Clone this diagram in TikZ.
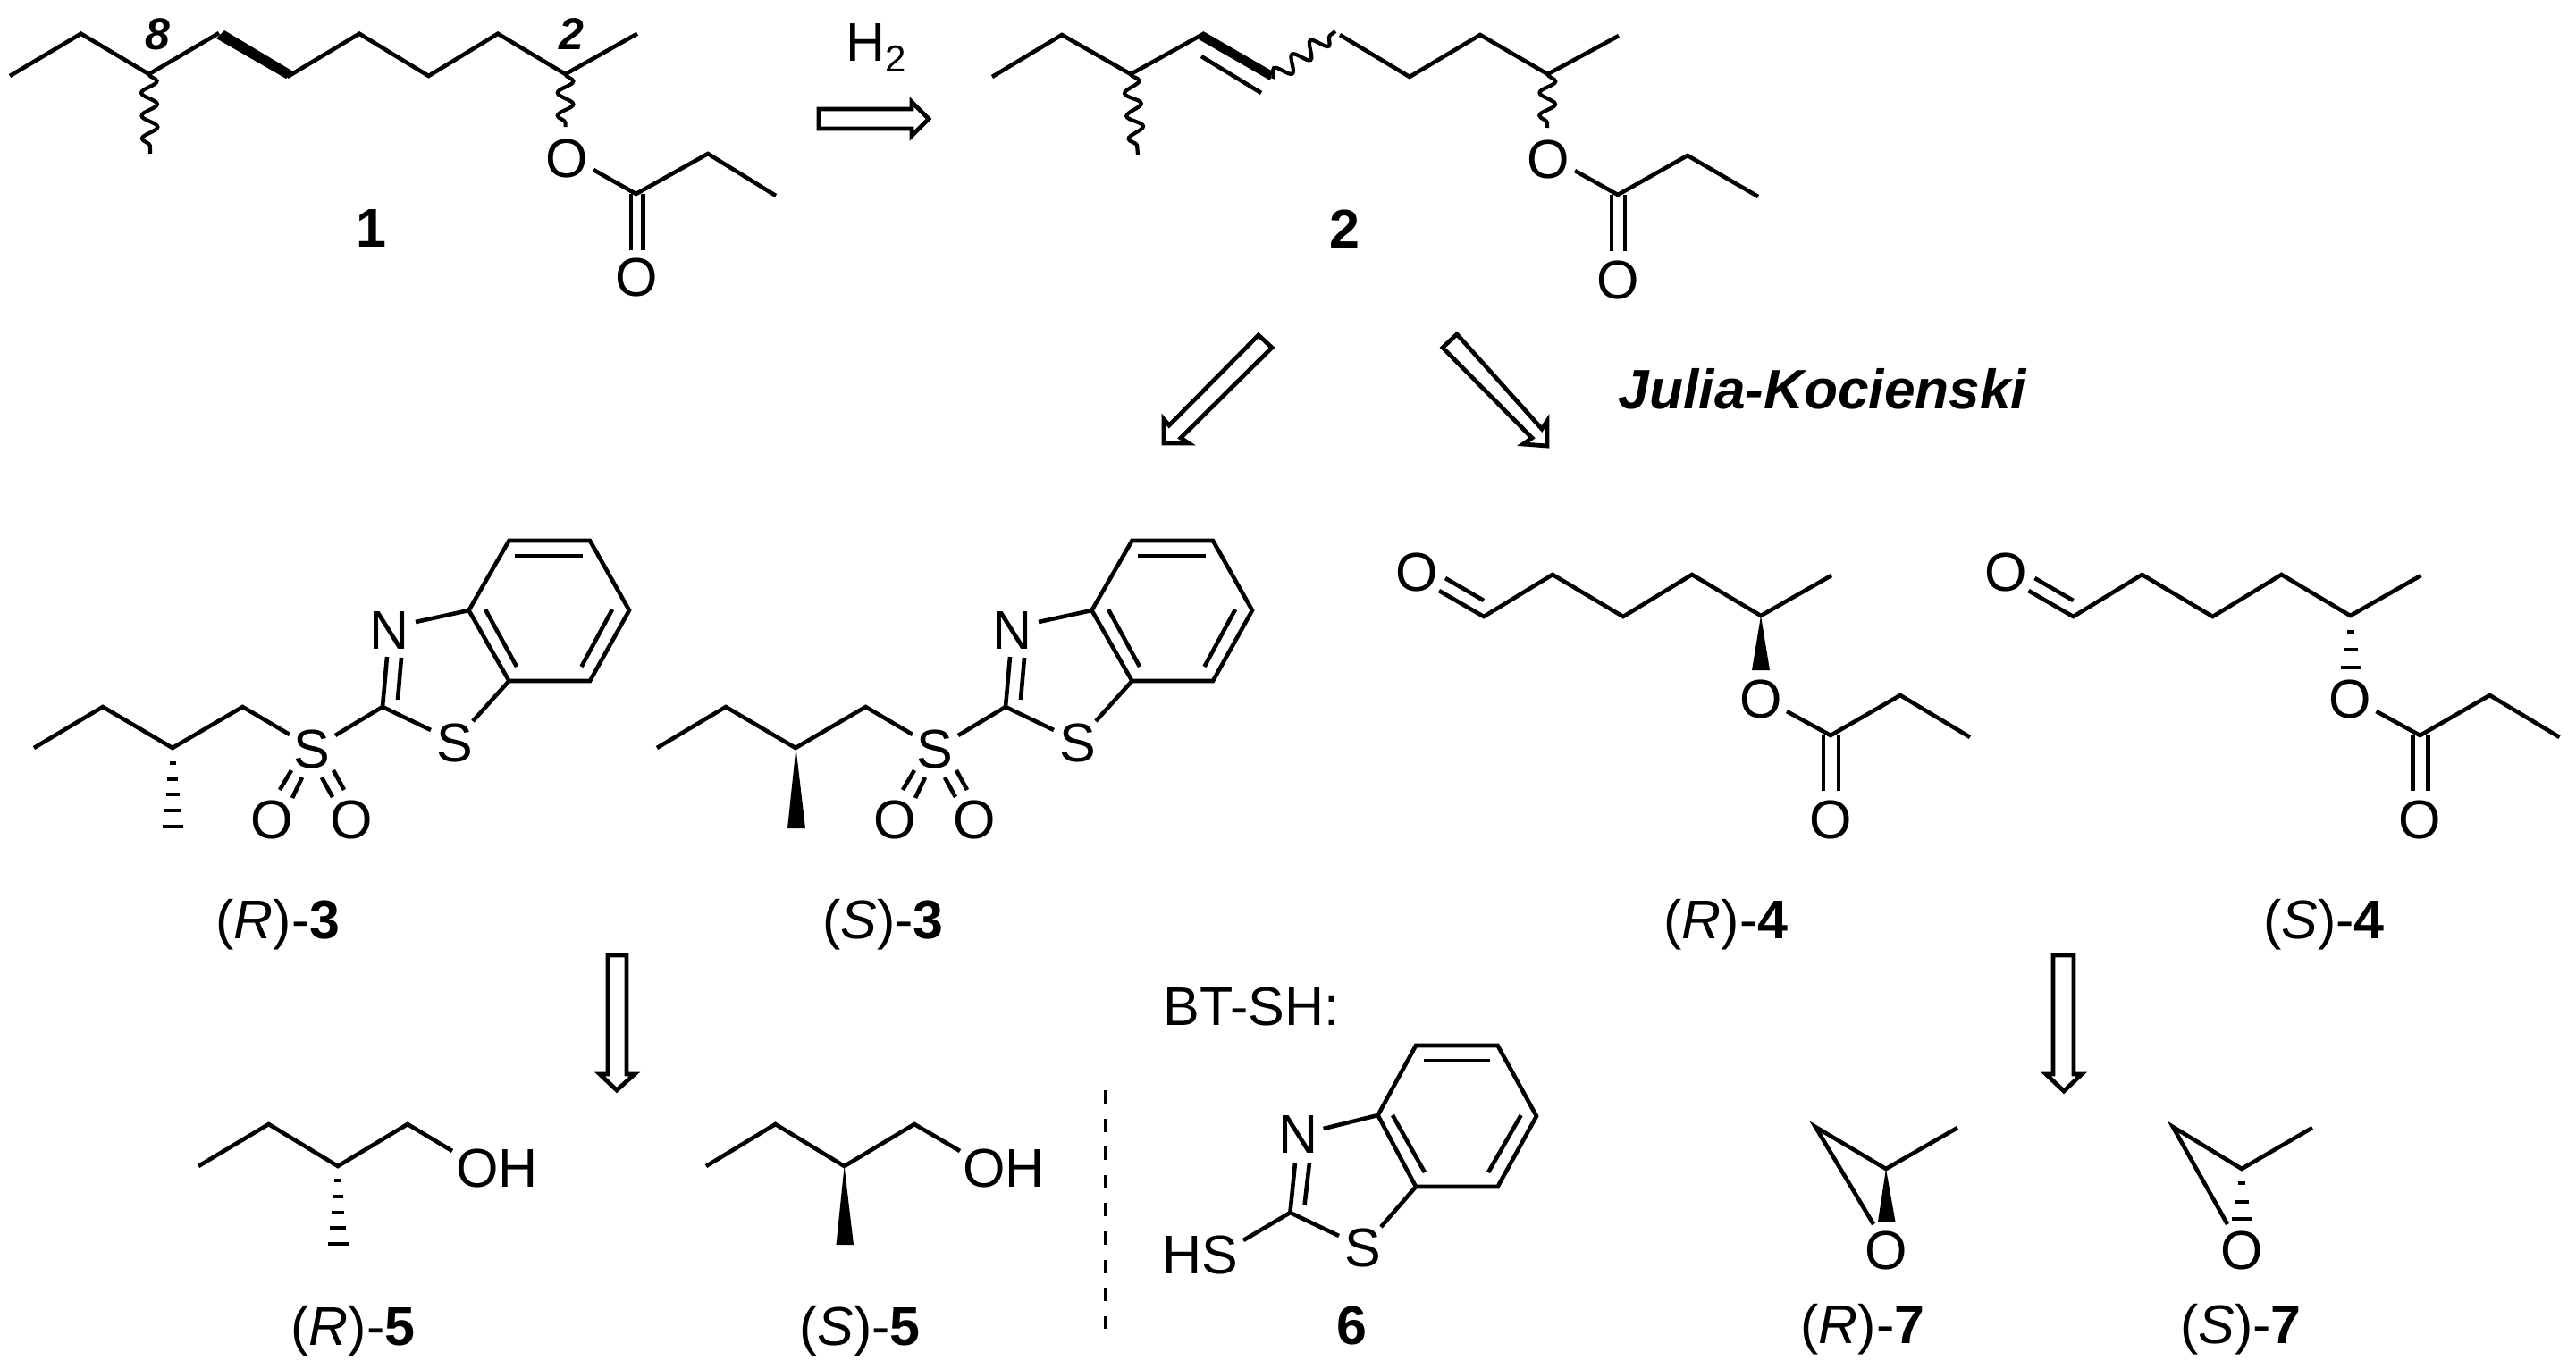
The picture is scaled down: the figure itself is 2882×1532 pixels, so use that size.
\documentclass[tikz,border=0pt]{standalone}
\usepackage{fontspec}
\setmainfont{Liberation Sans}
\usetikzlibrary{decorations.pathmorphing}
\newcommand\lblfont{\fontsize{15.25}{18}\selectfont}
\newcommand\smallbi{\fontsize{12.5}{15}\selectfont\bfseries\itshape}
\newcommand\isoname[2]{(\textit{#1})-\textbf{#2}}
\tikzset{
  bond/.style={line width=1.15pt,line join=miter},
  atom/.style={inner sep=0pt,font=\lblfont},
  caption/.style={inner sep=0pt,anchor=base,font=\lblfont},
  wavy/.style={line width=1.05pt,decorate,decoration={snake,segment length=6.4pt,amplitude=2.2pt}},
  hashline/.style={line width=1.05pt},
  wedgefill/.style={fill=black,draw=none},
  hollow/.style={line width=1.2pt,line join=miter,miter limit=10},
  divider/.style={line width=0.9pt,dash pattern=on 3.75pt off 4.15pt}
}
% benzothiazole sulfone, coordinates of (R)-3
\newcommand\sulfonecore[1]{
  \draw[bond] (38,837) -- (115,791) -- (193,837) -- (271.5,791) -- (324,822);
  \node[atom] (#1s1) at (349,838) {S};
  \draw[bond] (375,823) -- (428,791) -- (482,817);
  \node[atom] (#1s2) at (509,831) {S};
  \node[atom] (#1n) at (436,706) {N};
  \draw[bond] (529,807) -- (569.5,762);
  \draw[bond] (465,696) -- (524.5,683);
  \draw[bond] (524.5,683) -- (569.5,605) -- (660,605) -- (704,683) -- (660,762) -- (569.5,762) -- cycle;
  \draw[bond] (576,622) -- (652,622);
  \draw[bond] (543,682) -- (578,746);
  \draw[bond] (685,682) -- (650.5,746);
  \draw[bond] (428,791) -- (433,735);
  \draw[bond] (445,783) -- (449,736);
  \draw[bond] (326,862) -- (313,884);
  \draw[bond] (338,870) -- (327,893);
  \draw[bond] (373,862) -- (385,884);
  \draw[bond] (360,870) -- (372,892);
  \node[atom] (#1o1) at (304,917) {O};
  \node[atom] (#1o2) at (393,917) {O};
}
% aldehyde-ester, coordinates of (R)-4
\newcommand\aldehydecore[1]{
  \node[atom] (#1o1) at (1585,640) {O};
  \draw[bond] (1617,647) -- (1660,672);
  \draw[bond] (1610,661) -- (1660,690) -- (1737,643) -- (1816,690) -- (1893,643) -- (1970,689) -- (2049,644);
  \node[atom] (#1o2) at (1970,782) {O};
  \draw[bond] (1999,796) -- (2048,823) -- (2126,778) -- (2204,825);
  \draw[bond] (2040,823) -- (2040,885);
  \draw[bond] (2057,823) -- (2057,885);
  \node[atom] (#1o3) at (2048,917) {O};
}
\begin{document}
\begin{tikzpicture}[x=0.25pt,y=-0.25pt]
\useasboundingbox (0,0) rectangle (2882,1532);
\fill[white] (0,0) rectangle (2882,1532);

% ---- 1
\draw[bond] (11,85) -- (90.6,37.7) -- (166.6,83) -- (245,37);
\fill[wedgefill] (251,34) -- (328,80) -- (320,88) -- (242,43) -- cycle;
\draw[bond] (321.5,86) -- (402,37.7) -- (479.5,85) -- (557,37.7) -- (632.6,83) -- (713,37.7);
\draw[wavy] (166.6,83) -- (168,172);
\draw[wavy] (632.6,83) -- (632.6,142);
\node[atom] (a1o) at (634,177) {O};
\draw[bond] (664,190) -- (711.6,217) -- (792,172) -- (868,219);
\draw[bond] (706,217) -- (706,280);
\draw[bond] (719.5,217) -- (719.5,280);
\node[atom] (a1oo) at (712,310) {O};
\node[caption] (lab1) at (415,276) {\textbf{1}};
\node[inner sep=0pt,anchor=base,font=\smallbi] (n8) at (176,55) {8};
\node[inner sep=0pt,anchor=base,font=\smallbi] (n2) at (639,55) {2};

% ---- H2 and arrow
\node[caption] (h2) at (980,68) {H\raisebox{-3pt}{\fontsize{10.5}{12}\selectfont 2}};
\draw[hollow] (916,122) -- (1020,122) -- (1020,114) -- (1039,133) -- (1020,152) -- (1020,144) -- (916,144) -- cycle;

% ---- 2
\draw[bond] (1110,86) -- (1188,39) -- (1265,83) -- (1348,37);
\fill[wedgefill] (1348,36) -- (1424,80) -- (1421,90) -- (1341,44) -- cycle;
\draw[bond] (1344,63) -- (1411,104);
\draw[wavy] (1424,88) -- (1494,35);
\draw[bond] (1499,39) -- (1577,86) -- (1656,39) -- (1731.5,83) -- (1811,40);
\draw[wavy] (1265,83) -- (1273,173);
\draw[wavy] (1731.5,83) -- (1731,143);
\node[atom] (a2o) at (1732,178) {O};
\draw[bond] (1762,191) -- (1810,218) -- (1888,174) -- (1967,220);
\draw[bond] (1803,218) -- (1803,281);
\draw[bond] (1818,218) -- (1818,281);
\node[atom] (a2oo) at (1810,313) {O};
\node[caption] (lab2) at (1504,277) {\textbf{2}};

% ---- diagonal arrows
\draw[hollow] (1408,375) -- (1423,389) -- (1321,490) -- (1330,496) -- (1302,496) -- (1302,469) -- (1308,476) -- cycle;
\draw[hollow] (1630,374) -- (1614,389) -- (1714,490) -- (1704,497) -- (1731,499) -- (1731,471) -- (1725,480) -- cycle;
\node[inner sep=0pt,anchor=base,font=\fontsize{15.55}{18}\selectfont\bfseries\itshape] (jk) at (2039,457) {Julia-Kocienski};

% ---- (R)-3
\sulfonecore{r3}
\foreach \y/\w in {854/7,872/12,889/15,907/18,925/23}
  \draw[hashline] ({193-\w/2},\y) -- ({193+\w/2},\y);
\node[caption] (labr3) at (311,1050) {\isoname{R}{3}};

% ---- (S)-3
\begin{scope}[shift={(697,0)}]
  \sulfonecore{s3}
\end{scope}
\fill[wedgefill] (890.5,837) -- (901,927) -- (881,927) -- cycle;
\node[caption] (labs3) at (988,1050) {\isoname{S}{3}};

% ---- (R)-4
\aldehydecore{r4}
\fill[wedgefill] (1970,689) -- (1980,750) -- (1960,750) -- cycle;
\node[caption] (labr4) at (1931,1050) {\isoname{R}{4}};

% ---- (S)-4
\begin{scope}[shift={(659.5,0)}]
  \aldehydecore{s4}
\end{scope}
\foreach \y/\w in {707/8,727/16,747/22}
  \draw[hashline] ({2630-\w/2},\y) -- ({2630+\w/2},\y);
\node[caption] (labs4) at (2600,1050) {\isoname{S}{4}};

% ---- vertical arrows
\draw[hollow] (680,1069) -- (680,1202) -- (671,1202) -- (690,1220) -- (710,1202) -- (701,1202) -- (701,1069) -- cycle;
\draw[hollow] (2297,1069) -- (2297,1202) -- (2289,1202) -- (2309,1221) -- (2329,1202) -- (2320,1202) -- (2320,1069) -- cycle;

% ---- (R)-5
\draw[bond] (222,1305) -- (300.6,1258) -- (378,1305) -- (456,1258) -- (506,1288);
\node[atom] (r5oh) at (556,1307) {OH};
\foreach \y/\w in {1321/8,1339/11,1357/14,1374/18,1392/23}
  \draw[hashline] ({378-\w/2},\y) -- ({378+\w/2},\y);
\node[caption] (labr5) at (395,1505) {\isoname{R}{5}};

% ---- (S)-5
\draw[bond] (790,1305) -- (867.5,1258) -- (944.6,1305) -- (1023,1258) -- (1074,1288);
\node[atom] (s5oh) at (1123,1307) {OH};
\fill[wedgefill] (944.6,1305) -- (955,1393) -- (935.5,1393) -- cycle;
\node[caption] (labs5) at (962,1505) {\isoname{S}{5}};

% ---- divider
\draw[divider] (1237,1220) -- (1237,1487);

% ---- 6
\node[caption] (btsh) at (1400,1147) {BT-SH:};
\draw[bond] (1541.6,1248) -- (1584,1170) -- (1675.6,1170) -- (1719,1249) -- (1675.6,1328) -- (1584,1328) -- cycle;
\draw[bond] (1593,1187) -- (1666.5,1187);
\draw[bond] (1558,1248) -- (1594,1312);
\draw[bond] (1701.6,1248) -- (1665,1312);
\node[atom] (b6n) at (1452.5,1270) {N};
\draw[bond] (1480.6,1263) -- (1541.6,1248);
\draw[bond] (1545,1373) -- (1584,1328);
\node[atom] (b6s) at (1525,1396) {S};
\draw[bond] (1391,1388) -- (1443.4,1357) -- (1498,1383);
\node[atom] (b6hs) at (1343,1404) {HS};
\draw[bond] (1443.4,1357) -- (1449,1301);
\draw[bond] (1459.5,1349) -- (1465,1301);
\node[caption] (lab6) at (1512,1504) {\textbf{6}};

% ---- (R)-7
\draw[bond] (2096,1370) -- (2031,1261) -- (2110,1308) -- (2190,1262);
\fill[wedgefill] (2110,1308) -- (2120.5,1367) -- (2101,1367) -- cycle;
\node[atom] (r7o) at (2110,1399) {O};
\node[caption] (labr7) at (2084,1503) {\isoname{R}{7}};

% ---- (S)-7
\draw[bond] (2492,1370) -- (2431,1261) -- (2508,1308) -- (2587,1262);
\foreach \y/\w in {1324/8,1345/16,1364/23}
  \draw[hashline] ({2508-\w/2},\y) -- ({2508+\w/2},\y);
\node[atom] (s7o) at (2508,1399) {O};
\node[caption] (labs7) at (2507,1503) {\isoname{S}{7}};
\end{tikzpicture}
\end{document}
